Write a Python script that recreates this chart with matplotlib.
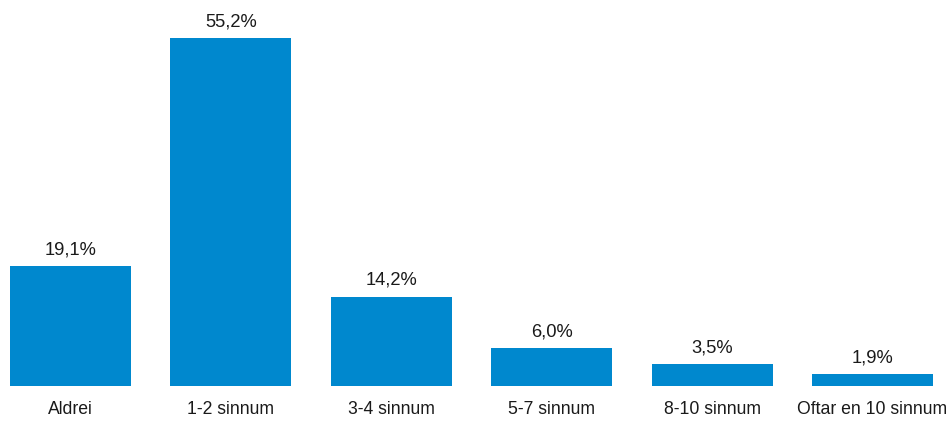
import matplotlib.pyplot as plt

categories = ["Aldrei", "1-2 sinnum", "3-4 sinnum", "5-7 sinnum", "8-10 sinnum", "Oftar en 10 sinnum"]
values = [19.1, 55.2, 14.2, 6.0, 3.5, 1.9]
value_labels = ["19,1%", "55,2%", "14,2%", "6,0%", "3,5%", "1,9%"]

plt.rcParams["font.family"] = ["Liberation Sans", "DejaVu Sans"]

fig = plt.figure(figsize=(9.48, 4.21), dpi=100)
ax = fig.add_axes([10 / 948, 35 / 421, 923 / 948, 378 / 421])

width = 0.755
x = range(len(categories))
bars = ax.bar(x, values, width=width, color="#0088CE")

# etiketler barın üstünde
for bar, label in zip(bars, value_labels):
    ax.annotate(label, (bar.get_x() + bar.get_width() / 2, bar.get_height()),
                xytext=(0, 5.5), textcoords="offset points",
                ha="center", va="bottom", fontsize=13.2, color="#1a1a1a")

ax.set_xlim(-width / 2, len(categories) - 1 + width / 2)
ax.set_ylim(0, 60)
ax.set_xticks(list(x))
ax.set_xticklabels(categories, fontsize=12.7, color="#1a1a1a")
ax.tick_params(axis="x", length=0, pad=11)
ax.set_yticks([])
for spine in ax.spines.values():
    spine.set_visible(False)

fig.savefig("out.png", dpi=100)
